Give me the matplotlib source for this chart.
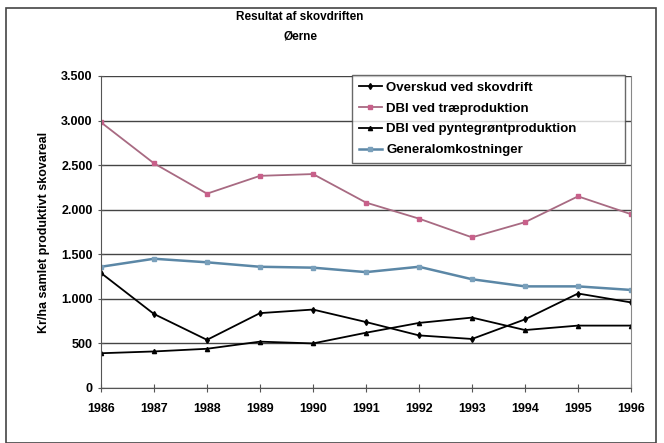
import matplotlib
matplotlib.use("Agg")
import matplotlib.pyplot as plt
from matplotlib.patches import Rectangle
from matplotlib.ticker import FuncFormatter

plt.rcParams['font.family'] = ['Liberation Sans', 'DejaVu Sans']

years = [1986, 1987, 1988, 1989, 1990, 1991, 1992, 1993, 1994, 1995, 1996]
overskud = [1290, 830, 540, 840, 880, 740, 590, 550, 770, 1060, 960]
dbi_trae = [2980, 2520, 2180, 2380, 2400, 2080, 1900, 1690, 1860, 2150, 1950]
dbi_pynt = [390, 410, 440, 520, 500, 620, 730, 790, 650, 700, 700]
general = [1360, 1450, 1410, 1360, 1350, 1300, 1360, 1220, 1140, 1140, 1100]

labels = ["Overskud ved skovdrift", "DBI ved træproduktion",
          "DBI ved pyntegrøntproduktion", "Generalomkostninger"]

fig = plt.figure(figsize=(6.64, 4.43), dpi=100)
ax = fig.add_axes([101 / 664, 1 - 388 / 443, 530 / 664, 312 / 443])

# outer chart border
fig.patches.append(Rectangle((6 / 664, 0.0), 650 / 664, 1 - 8 / 443, transform=fig.transFigure,
                             fill=False, edgecolor="#444444", linewidth=1.2))

ax.plot(years, overskud, color="black", lw=1.3, marker="d", ms=3, label=labels[0])
ax.plot(years, dbi_trae, color="#a86a82", lw=1.3, marker="s", ms=3, mfc="#c8608a", mec="#c8608a", label=labels[1])
ax.plot(years, dbi_pynt, color="black", lw=1.3, marker="^", ms=3, label=labels[2])
ax.plot(years, general, color="#5b87a6", lw=1.8, marker="s", ms=3, mfc="#7aa0bb", mec="#7aa0bb", label=labels[3])

ax.set_xlim(1986, 1996)
ax.set_ylim(0, 3500)
ax.set_xticks(years)
ax.set_yticks(range(0, 3501, 500))
ax.yaxis.set_major_formatter(FuncFormatter(lambda v, p: f"{int(v):,}".replace(",", ".")))
ax.grid(axis="y", color="#444444", lw=1.0)
ax.set_axisbelow(True)
ax.spines["top"].set_visible(False)
ax.spines["right"].set_color("#888888")
ax.spines["left"].set_color("#555555")
ax.spines["bottom"].set_color("#555555")
ax.tick_params(axis="x", direction="inout", length=6, pad=8, color="#555555")
ax.tick_params(axis="y", direction="inout", length=4, pad=4, color="#555555")
for t in ax.get_xticklabels() + ax.get_yticklabels():
    t.set_fontweight("bold")
    t.set_fontsize(9)

ax.set_ylabel("Kr/ha samlet produktivt skovareal", fontsize=9, fontweight="bold", labelpad=8)

fig.text(300 / 664, 1 - 17 / 443, "Resultat af skovdriften", ha="center", va="center",
         fontsize=8.5, fontweight="bold")
fig.text(300 / 664, 1 - 37 / 443, "Øerne", ha="center", va="center",
         fontsize=8.5, fontweight="bold")

leg = ax.legend(loc="upper left", bbox_to_anchor=(352 / 664, 1 - 160 / 443, 273 / 664, 85 / 443),
                bbox_transform=fig.transFigure, mode="expand", borderaxespad=0,
                fontsize=9.5, frameon=True, fancybox=False, edgecolor="#444444",
                handlelength=1.8, borderpad=0.5, labelspacing=0.65, handletextpad=0.3)
leg.get_frame().set_linewidth(1.0)
leg._legend_box.align = "left"
for t in leg.get_texts():
    t.set_fontweight("bold")

fig.savefig("out.png", dpi=100)
